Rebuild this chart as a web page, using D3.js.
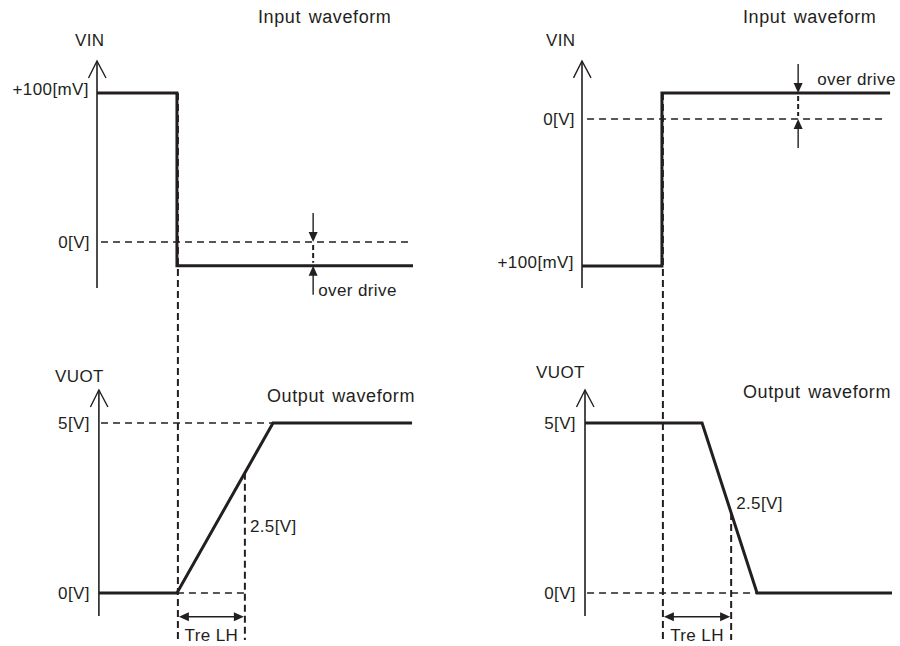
<!DOCTYPE html>
<html><head><meta charset="utf-8">
<script src="https://cdn.jsdelivr.net/npm/d3@7"></script>
<style>
body{margin:0;background:#fff;}
svg text{font-family:"Liberation Sans",Arial,Helvetica,sans-serif;font-size:17px;fill:#231f20;letter-spacing:0.4px;}
svg text.title{font-size:18px;letter-spacing:0.6px;word-spacing:2px;}
</style></head><body>
<svg id="c" width="900" height="646"></svg>
<script>
// ---------- data ----------
const switchT = 25.3;          // input transition time (arbitrary units)
const overdriveT = 68.4;       // where the over-drive marker sits

const leftInT   = [0, 25.3, 25.3, 100];
const leftInMV  = [100, 100, -16, -16];
const leftOutT  = [0.6, 25.3, 55.7, 99.7];
const leftOutV  = [0, 0, 5, 5];
const leftTreT  = 46.8;
const leftInLabels  = ["+100[mV]", "0[V]"];
const leftInLabelMV = [100, 0];

const rightInT  = [0, 25.3, 25.3, 97.5];
const rightInMV = [-100, -100, 17.7, 17.7];
const rightOutT = [0.95, 38, 55.4, 98.1];
const rightOutV = [5, 5, 0, 0];
const rightTreT = 47.2;
const rightInLabels  = ["+100[mV]", "0[V]"];
const rightInLabelMV = [-100, 0];

const outLabels = ["5[V]", "0[V]"];
const outLabelV = [5, 0];

// ---------- drawing ----------
const INK = "#231f20";
const svg = d3.select("#c");
const line = d3.line();

const panels = [
  { xr:[97,413], inY:d3.scaleLinear().domain([0,100]).range([242,93]),
    inAxis:[-30.9,121.5], outAxisT:0.6, inT:leftInT, inMV:leftInMV, outT:leftOutT, outV:leftOutV,
    treT:leftTreT, inLabels:leftInLabels, inLabelMV:leftInLabelMV, zeroDash:[1.27,99.4],
    fiveDash:[1.27,55.7], zeroOutDash:[25.3,46.8],
    inTitle:[258,23], vin:[75,46], outTitle:[267,402], vout:[55,382], lab25:[5,532], odText:[5,296] },
  { xr:[582,898], inY:d3.scaleLinear().domain([-100,0]).range([266,119]),
    inAxis:[-115,39.5], outAxisT:0.95, inT:rightInT, inMV:rightInMV, outT:rightOutT, outV:rightOutV,
    treT:rightTreT, inLabels:rightInLabels, inLabelMV:rightInLabelMV, zeroDash:[1.6,95.9],
    fiveDash:null, zeroOutDash:[1.6,55.4],
    inTitle:[743,23], vin:[546,46], outTitle:[743,398], vout:[536,378], lab25:[5,509], odText:[19,85] }
];
const outY = d3.scaleLinear().domain([0,5]).range([593,423]);
const outAxis = [-0.68, 5.97];
const dashBottomV = -1.38, treArrowV = -0.7, treTextV = -1.41;

function openArrow(x, yTip){
  svg.append("path").attr("d", `M${x-8.5},${yTip+17}L${x},${yTip}L${x+9},${yTip+17}`)
    .attr("fill","none").attr("stroke",INK).attr("stroke-width",1.4);
}
function solidHead(x, y, dir){
  const L=10, W=4.5; let d;
  if(dir==="down") d=`M${x},${y}L${x-W},${y-L}L${x+W},${y-L}Z`;
  if(dir==="up") d=`M${x},${y}L${x-W},${y+L}L${x+W},${y+L}Z`;
  if(dir==="left") d=`M${x},${y}L${x+L},${y-W}L${x+L},${y+W}Z`;
  if(dir==="right") d=`M${x},${y}L${x-L},${y-W}L${x-L},${y+W}Z`;
  svg.append("path").attr("d",d).attr("fill",INK);
}
function seg(x1,y1,x2,y2,w,dash){
  const l = svg.append("line").attr("x1",x1).attr("y1",y1).attr("x2",x2).attr("y2",y2)
    .attr("stroke",INK).attr("stroke-width",w);
  if(dash) l.attr("stroke-dasharray",dash);
  return l;
}
function text(str,x,y,anchor,cls){
  const t = svg.append("text").attr("x",x).attr("y",y).attr("text-anchor",anchor||"start").text(str);
  if(cls) t.attr("class",cls);
  return t;
}

panels.forEach(p=>{
  const x = d3.scaleLinear().domain([0,100]).range(p.xr);
  const iy = p.inY;
  // ---- input ----
  const ax0 = x(0);
  seg(ax0, iy(p.inAxis[0]), ax0, iy(p.inAxis[1]), 1.6);
  openArrow(ax0, iy(p.inAxis[1]));
  seg(x(p.zeroDash[0]), iy(0), x(p.zeroDash[1]), iy(0), 1.3, "7,5");
  svg.append("path").attr("d", line(p.inT.map((t,i)=>[x(t), iy(p.inMV[i])])))
    .attr("fill","none").attr("stroke",INK).attr("stroke-width",3).attr("stroke-linejoin","miter");
  p.inLabels.forEach((s,i)=>{
    const v = p.inLabelMV[i];
    if(s.startsWith("+")) text(s, ax0-8, iy(v)+1.5, "end");
    else text(s, ax0-7, iy(v)+6, "end");
  });
  text("Input waveform", p.inTitle[0], p.inTitle[1], "start", "title");
  text("VIN", p.vin[0], p.vin[1]);
  // over drive marker
  const ox = x(overdriveT), od = p.inMV[3];
  const yTopLvl = iy(Math.max(0,od)), yBotLvl = iy(Math.min(0,od));
  seg(ox, yTopLvl-29, ox, yTopLvl-9, 1.4); solidHead(ox, yTopLvl, "down");
  seg(ox, yBotLvl+29, ox, yBotLvl+9, 1.4); solidHead(ox, yBotLvl, "up");
  seg(ox, yTopLvl+3, ox, yBotLvl-3, 2, "5,3");
  text("over drive", ox+p.odText[0], p.odText[1]);

  // ---- output ----
  const bx0 = x(p.outAxisT);
  seg(bx0, outY(outAxis[0]), bx0, outY(outAxis[1]), 1.6);
  openArrow(bx0, outY(outAxis[1]));
  if(p.fiveDash) seg(x(p.fiveDash[0]), outY(5), x(p.fiveDash[1]), outY(5), 1.3, "7,5");
  seg(x(p.zeroOutDash[0]), outY(0), x(p.zeroOutDash[1]), outY(0), 1.3, "7,5");
  svg.append("path").attr("d", line(p.outT.map((t,i)=>[x(t), outY(p.outV[i])])))
    .attr("fill","none").attr("stroke",INK).attr("stroke-width",3);
  outLabels.forEach((s,i)=> text(s, bx0-9, outY(outLabelV[i])+6, "end"));
  text("Output waveform", p.outTitle[0], p.outTitle[1], "start", "title");
  text("VUOT", p.vout[0], p.vout[1]);

  // vertical dashed guides
  const sx = x(switchT+0.3);
  seg(sx, iy(p.inMV[0] > 0 ? p.inMV[0] : p.inMV[3]), sx, outY(dashBottomV), 2, "7,4");
  const ramp = d3.scaleLinear().domain([p.outT[1], p.outT[2]]).range([p.outV[1], p.outV[2]]);
  const tx = x(p.treT);
  seg(tx, outY(ramp(p.treT)), tx, outY(dashBottomV), 2, "7,4");
  // Tre LH arrow
  const ay = outY(treArrowV);
  seg(sx+9, ay, tx-9, ay, 1.6);
  solidHead(sx+1, ay, "left"); solidHead(tx-1, ay, "right");
  text("Tre LH", (sx+tx)/2, outY(treTextV), "middle");
  text("2.5[V]", tx+p.lab25[0], p.lab25[1]);
});
</script>
</body></html>
